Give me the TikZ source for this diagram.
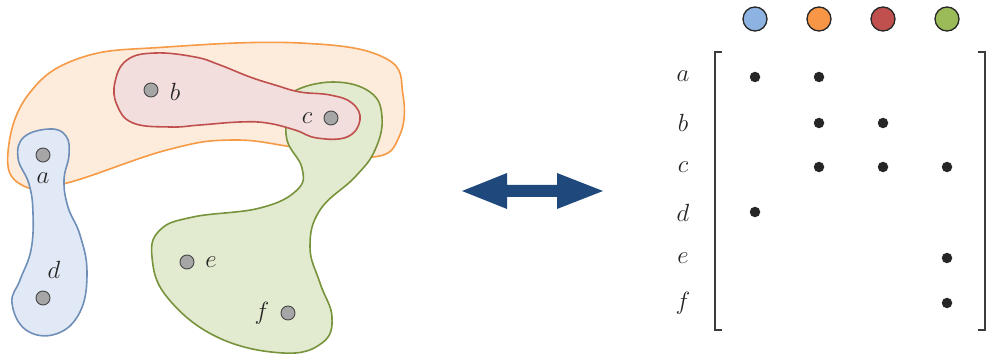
\documentclass[tikz,border=0pt]{standalone}
\definecolor{oStroke}{HTML}{F79A46}
\definecolor{oFill}{HTML}{FDEBDB}
\definecolor{rStroke}{HTML}{C0504D}
\definecolor{rFill}{HTML}{F2DEDD}
\definecolor{gStroke}{HTML}{77933C}
\definecolor{gFill}{HTML}{E2EACF}
\definecolor{bStroke}{HTML}{6F8FB8}
\definecolor{bFill}{HTML}{E1E9F6}
\definecolor{hBlue}{HTML}{8DB3E2}
\definecolor{hOrange}{HTML}{F79646}
\definecolor{hRed}{HTML}{C0504D}
\definecolor{hGreen}{HTML}{9BBB59}
\definecolor{arrowC}{HTML}{1F497D}
\definecolor{inkC}{HTML}{262626}
\begin{document}
\begin{tikzpicture}[x=1pt,y=-1pt,
  blob/.style={line width=1.6pt, smooth cycle, tension=0.7},
  vpt/.style={circle, draw=inkC!85, fill=black!35, line width=0.9pt, minimum size=14pt, inner sep=0pt},
  lbl/.style={font=\fontsize{26}{30}\selectfont, text=inkC, inner sep=0pt},
  mdot/.style={circle, fill=inkC, minimum size=10.5pt, inner sep=0pt},
  hdr/.style={circle, draw=inkC, line width=1.3pt, minimum size=24pt, inner sep=0pt},
  brk/.style={draw=inkC!90, line width=1.8pt}]
\useasboundingbox (0,0) rectangle (988,355);
% hyperedges
\draw[blob, draw=oStroke, fill=oFill] plot coordinates {(8,152) (20,184) (63,184) (167,150) (233,140) (300,148) (373,157) (399,137) (403,95) (385,58) (300,43) (167,47) (80,58) (28,95)};
\draw[blob, draw=bStroke, fill=bFill] plot coordinates {(50,129) (66,136) (69,155) (64,180) (68,207) (80,235) (87,272) (80,312) (56,334) (26,330) (12,303) (20,280) (31,250) (33,213) (29,184) (18,158) (24,137)};
\draw[blob, draw=gStroke, fill=gFill] plot coordinates {(293,92) (333,82) (370,92) (382,117) (375,150) (355,177) (320,210) (310,247) (320,283) (332,317) (322,343) (283,353) (217,337) (167,297) (152,257) (160,230) (193,217) (260,208) (297,190) (302,168) (287,140) (288,110)};
\draw[blob, draw=rStroke, fill=rFill] plot coordinates {(127,60) (115,82) (117,105) (133,123) (170,127) (200,125) (240,122) (267,123) (295,130) (317,138) (347,137) (360,120) (352,103) (330,95) (300,92) (275,85) (250,77) (220,65) (195,57) (155,53)};
% vertices
\node[vpt] (pa) at (43,155) {};
\node[vpt] (pb) at (151,90) {};
\node[vpt] (pc) at (331,118) {};
\node[vpt] (pd) at (43,298) {};
\node[vpt] (pe) at (187,262) {};
\node[vpt] (pf) at (288,313) {};
\node[lbl] (la) at (43,178) {$a$};
\node[lbl] (lb) at (175,92) {$b$};
\node[lbl] (lc) at (307,118) {$c$};
\node[lbl] (ld) at (54,270) {$d$};
\node[lbl] (le) at (211,262) {$e$};
\node[lbl] (lf) at (262,313) {$f$};
% double arrow
\fill[arrowC] (462,191) -- (507,173) -- (507,185) -- (557,185) -- (557,173) -- (603,191) -- (557,209) -- (557,197) -- (507,197) -- (507,209) -- cycle;
% header circles
\node[hdr, fill=hBlue] (h1) at (755,19) {};
\node[hdr, fill=hOrange] (h2) at (819,19) {};
\node[hdr, fill=hRed] (h3) at (883,19) {};
\node[hdr, fill=hGreen] (h4) at (947,19) {};
% brackets
\draw[brk] (722,52) -- (715,52) -- (715,330) -- (722,330);
\draw[brk] (978,52) -- (985,52) -- (985,330) -- (978,330);
% row labels
\node[lbl] (ra) at (683,76) {$a$};
\node[lbl] (rb) at (683,123) {$b$};
\node[lbl] (rc) at (683,167) {$c$};
\node[lbl] (rd) at (683,213) {$d$};
\node[lbl] (re) at (683,258) {$e$};
\node[lbl] (rf) at (683,303) {$f$};
% incidence dots
\node[mdot] (m11) at (755,77) {};
\node[mdot] (m12) at (819,77) {};
\node[mdot] (m22) at (819,123) {};
\node[mdot] (m23) at (883,123) {};
\node[mdot] (m32) at (819,167) {};
\node[mdot] (m33) at (883,167) {};
\node[mdot] (m34) at (947,167) {};
\node[mdot] (m41) at (755,212) {};
\node[mdot] (m54) at (947,258) {};
\node[mdot] (m64) at (947,303) {};
\end{tikzpicture}
\end{document}
